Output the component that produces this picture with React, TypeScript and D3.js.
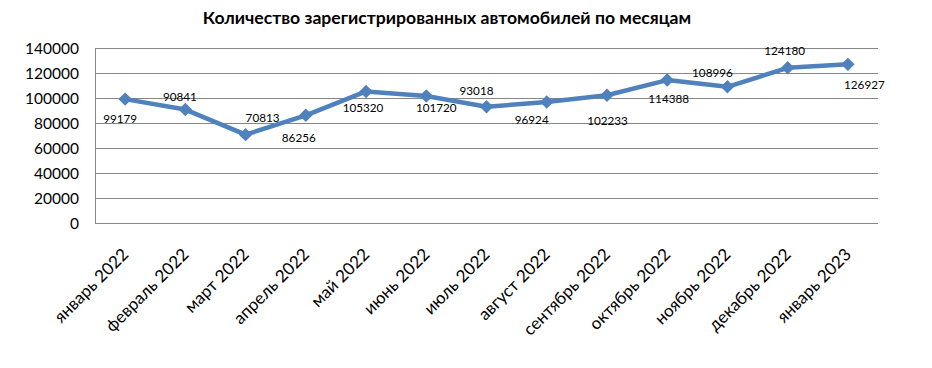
import { useEffect, useRef } from "react";
import * as d3 from "d3";

// Monthly registered cars
const months = [
  "январь 2022",
  "февраль 2022",
  "март 2022",
  "апрель 2022",
  "май 2022",
  "июнь 2022",
  "июль 2022",
  "август 2022",
  "сентябрь 2022",
  "октябрь 2022",
  "ноябрь 2022",
  "декабрь 2022",
  "январь 2023",
];
const registrations = [
  99179, 90841, 70813, 86256, 105320, 101720, 93018, 96924, 102233, 114388,
  108996, 124180, 126927,
];
const yTicks = [0, 20000, 40000, 60000, 80000, 100000, 120000, 140000];

// where each value label sits relative to its marker (manual, like the source)
const labelOffsets: [number, number][] = [
  [-5, 19.5],
  [-5.5, -12.5],
  [17, -16.5],
  [-7, 22],
  [-3, 16.5],
  [10, 12],
  [-10, -16.5],
  [-15, 18],
  [0.5, 25],
  [1.5, 18.5],
  [-15, -14],
  [-3, -17],
  [16.5, 20.5],
];

const W = 932;
const H = 368;
const FONT = "Lato, 'Open Sans', sans-serif";

export default function App() {
  const svgRef = useRef<SVGSVGElement | null>(null);

  useEffect(() => {
    document.body.style.margin = "0";
    if (!svgRef.current) return;
    const svg = d3.select(svgRef.current);
    svg.selectAll("*").remove();

    const left = 95;
    const right = 878;
    const top = 48;
    const bottom = 223.3;

    const x = d3.scaleBand<string>().domain(months).range([left, right]);
    const y = d3.scaleLinear().domain([0, 140000]).range([bottom, top]);
    const cx = (m: string) => (x(m) ?? 0) + x.bandwidth() / 2;

    // title
    svg
      .append("text")
      .attr("x", 447)
      .attr("y", 24)
      .attr("text-anchor", "middle")
      .attr("font-family", FONT)
      .attr("font-weight", 700)
      .attr("font-size", 17.6)
      .attr("fill", "#000")
      .text("Количество зарегистрированных автомобилей по месяцам");

    // gridlines
    svg
      .append("g")
      .selectAll("line")
      .data(yTicks)
      .join("line")
      .attr("x1", left)
      .attr("x2", right)
      .attr("y1", (d) => Math.round(y(d)) + 0.5)
      .attr("y2", (d) => Math.round(y(d)) + 0.5)
      .attr("stroke", "#868686")
      .attr("stroke-width", 1);

    // left axis line
    svg
      .append("line")
      .attr("x1", left + 0.5)
      .attr("x2", left + 0.5)
      .attr("y1", Math.round(top) + 0.5)
      .attr("y2", Math.round(bottom) + 0.5)
      .attr("stroke", "#868686");

    // y tick labels
    svg
      .append("g")
      .selectAll("text")
      .data(yTicks)
      .join("text")
      .attr("x", 79)
      .attr("y", (d) => y(d))
      .attr("dy", "0.36em")
      .attr("text-anchor", "end")
      .attr("font-family", FONT)
      .attr("font-size", 15.5)
      .attr("fill", "#000")
      .text((d) => String(d));

    // x category labels
    svg
      .append("g")
      .selectAll("text")
      .data(months)
      .join("text")
      .attr(
        "transform",
        (d) => `translate(${cx(d)},${bottom + 28}) rotate(-45)`
      )
      .attr("text-anchor", "end")
      .attr("dy", "0.36em")
      .attr("font-family", FONT)
      .attr("font-size", 17)
      .attr("fill", "#000")
      .text((d) => d);

    // line
    const line = d3
      .line<number>()
      .x((_, i) => cx(months[i]))
      .y((d) => y(d));
    svg
      .append("path")
      .datum(registrations)
      .attr("d", line)
      .attr("fill", "none")
      .attr("stroke", "#4f81bd")
      .attr("stroke-width", 4.5)
      .attr("stroke-linejoin", "round");

    // markers
    const diamond = d3.symbol(d3.symbolSquare, 90);
    svg
      .append("g")
      .selectAll("path")
      .data(registrations)
      .join("path")
      .attr("d", diamond)
      .attr(
        "transform",
        (d, i) => `translate(${cx(months[i])},${y(d)}) rotate(45)`
      )
      .attr("fill", "#4f81bd");

    // value labels
    svg
      .append("g")
      .selectAll("text")
      .data(registrations)
      .join("text")
      .attr("x", (_, i) => cx(months[i]) + labelOffsets[i][0])
      .attr("y", (d, i) => y(d) + labelOffsets[i][1])
      .attr("dy", "0.36em")
      .attr("text-anchor", "middle")
      .attr("font-family", FONT)
      .attr("font-size", 11.7)
      .attr("fill", "#000")
      .text((d) => String(d));
  }, []);

  return (
    <svg
      ref={svgRef}
      width={W}
      height={H}
      style={{ display: "block", background: "#fff" }}
    />
  );
}
